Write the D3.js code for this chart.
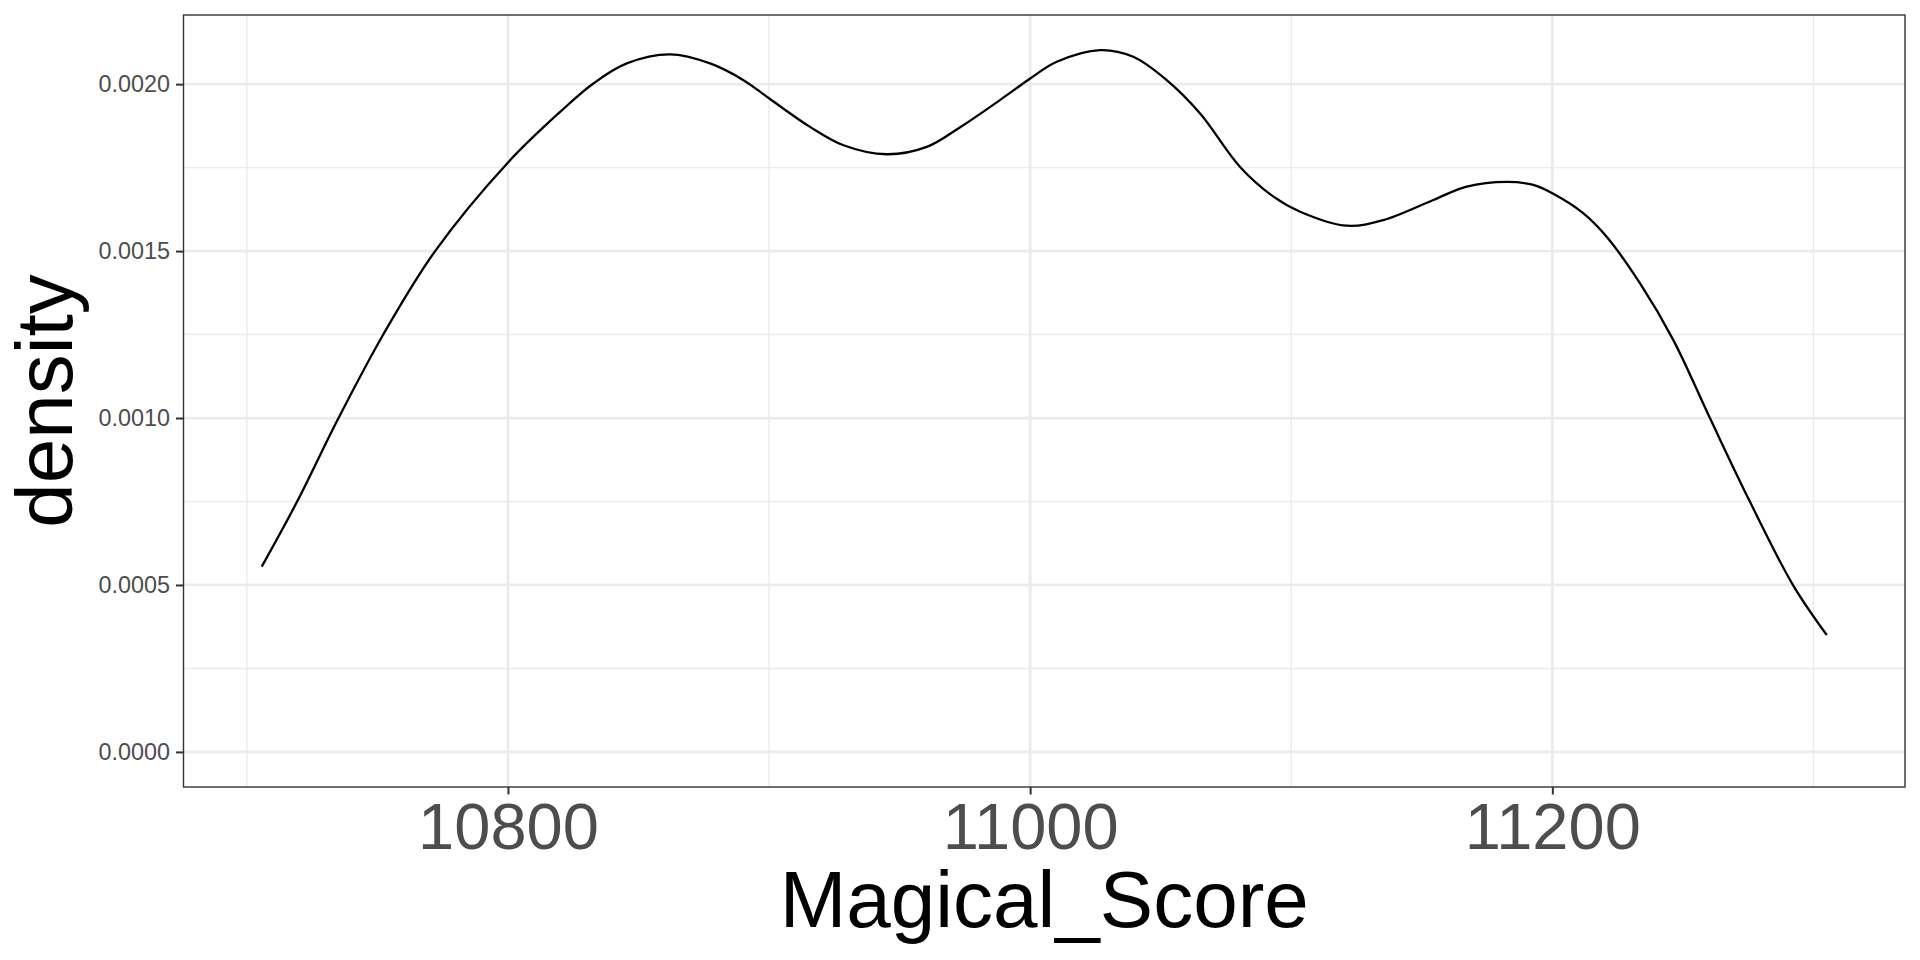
<!DOCTYPE html>
<html>
<head>
<meta charset="utf-8">
<script src="https://cdn.jsdelivr.net/npm/d3@7"></script>
<style>
  html, body { margin: 0; padding: 0; background: #ffffff; }
  svg { display: block; }
  text { font-family: "Liberation Sans", Arial, Helvetica, sans-serif; }
</style>
</head>
<body>
<svg id="chart" width="1920" height="960"></svg>
<script>
// ---- Data ----
const scoreValues = [
  10705.7, 10719.2, 10735.1, 10752.3, 10772.1, 10800.2, 10820.0, 10832.7,
  10845.5, 10862.1, 10877.4, 10890.2, 10900.1, 10915.7, 10928.5, 10945.1,
  10960.4, 10973.2, 10991.1, 11000.0, 11010.2, 11026.8, 11039.5, 11052.3,
  11065.1, 11080.4, 11093.2, 11103.4, 11121.3, 11135.3, 11154.4,
  11167.2, 11182.5, 11192.7, 11200.0, 11211.9, 11220.8, 11233.6, 11246.3,
  11260.4, 11275.7, 11292.3, 11305.1
];
const densityValues = [
  0.000555, 0.000749, 0.001000, 0.001251, 0.001500, 0.001767, 0.001917, 0.002002,
  0.002062, 0.002089, 0.002062, 0.002012, 0.001957, 0.001872, 0.001817, 0.001790,
  0.001812, 0.001871, 0.001967, 0.002017, 0.002067, 0.002102, 0.002082, 0.002012,
  0.001912, 0.001752, 0.001663, 0.001618, 0.001576, 0.001593, 0.001653,
  0.001693, 0.001707, 0.001698, 0.001673, 0.001613, 0.001543, 0.001403, 0.001234,
  0.000999, 0.000749, 0.000498, 0.000350
];
const xMajorTicks = [10800, 11000, 11200];
const xMinorTicks = [10700, 10900, 11100, 11300];
const yMajorTicks = [0, 0.0005, 0.0010, 0.0015, 0.0020];
const yMinorTicks = [0.00025, 0.00075, 0.00125, 0.00175];
const xTitle = "Magical_Score";
const yTitle = "density";

// ---- Layout ----
const panel = { left: 183.5, top: 15, right: 1905, bottom: 787 };
const svg = d3.select("#chart");

const xExt = d3.extent(scoreValues);
const xPad = (xExt[1] - xExt[0]) * 0.05;
const x = d3.scaleLinear()
  .domain([xExt[0] - xPad, xExt[1] + xPad])
  .range([panel.left, panel.right]);

const yMax = d3.max(densityValues);
const yPad = yMax * 0.05;
const y = d3.scaleLinear()
  .domain([0 - yPad, yMax + yPad])
  .range([panel.bottom, panel.top]);

// panel background
svg.append("rect")
  .attr("x", panel.left).attr("y", panel.top)
  .attr("width", panel.right - panel.left).attr("height", panel.bottom - panel.top)
  .attr("fill", "#ffffff");

const grid = svg.append("g");
// minor grid
grid.selectAll(".xmin").data(xMinorTicks).enter().append("line")
  .attr("x1", d => x(d)).attr("x2", d => x(d))
  .attr("y1", panel.top).attr("y2", panel.bottom)
  .attr("stroke", "#EBEBEB").attr("stroke-width", 1.4);
grid.selectAll(".ymin").data(yMinorTicks).enter().append("line")
  .attr("y1", d => y(d)).attr("y2", d => y(d))
  .attr("x1", panel.left).attr("x2", panel.right)
  .attr("stroke", "#EBEBEB").attr("stroke-width", 1.4);
// major grid
grid.selectAll(".xmaj").data(xMajorTicks).enter().append("line")
  .attr("x1", d => x(d)).attr("x2", d => x(d))
  .attr("y1", panel.top).attr("y2", panel.bottom)
  .attr("stroke", "#EBEBEB").attr("stroke-width", 2.8);
grid.selectAll(".ymaj").data(yMajorTicks).enter().append("line")
  .attr("y1", d => y(d)).attr("y2", d => y(d))
  .attr("x1", panel.left).attr("x2", panel.right)
  .attr("stroke", "#EBEBEB").attr("stroke-width", 2.8);

// density line
const pts = scoreValues.map((v, i) => [v, densityValues[i]]);
const line = d3.line()
  .x(d => x(d[0]))
  .y(d => y(d[1]))
  .curve(d3.curveCatmullRom.alpha(0.5));
svg.append("path")
  .datum(pts)
  .attr("d", line)
  .attr("fill", "none")
  .attr("stroke", "#000000")
  .attr("stroke-width", 2.3)
  .attr("stroke-linejoin", "round");

// panel border
svg.append("rect")
  .attr("x", panel.left).attr("y", panel.top)
  .attr("width", panel.right - panel.left).attr("height", panel.bottom - panel.top)
  .attr("fill", "none").attr("stroke", "#333333").attr("stroke-width", 1.4);

// axes
const xAxis = d3.axisBottom(x).tickValues(xMajorTicks).tickSize(7.5).tickPadding(6)
  .tickFormat(d3.format("d"));
const gx = svg.append("g").attr("transform", `translate(0,${panel.bottom})`).call(xAxis);
gx.select(".domain").remove();
gx.selectAll(".tick line").attr("stroke", "#333333").attr("stroke-width", 2);
gx.selectAll(".tick text")
  .attr("fill", "#4D4D4D")
  .style("font-size", "65px")
  .attr("dy", null)
  .attr("y", 62);

const yAxis = d3.axisLeft(y).tickValues(yMajorTicks).tickSize(7.5).tickPadding(6)
  .tickFormat(d3.format(".4f"));
const gy = svg.append("g").attr("transform", `translate(${panel.left},0)`).call(yAxis);
gy.select(".domain").remove();
gy.selectAll(".tick line").attr("stroke", "#333333").attr("stroke-width", 2);
gy.selectAll(".tick text")
  .attr("fill", "#4D4D4D")
  .style("font-size", "23.4px");

// titles
svg.append("text")
  .attr("x", (panel.left + panel.right) / 2)
  .attr("y", 927)
  .attr("text-anchor", "middle")
  .attr("fill", "#000000")
  .style("font-size", "80px")
  .text(xTitle);

svg.append("text")
  .attr("transform", `translate(72,${(panel.top + panel.bottom) / 2}) rotate(-90)`)
  .attr("text-anchor", "middle")
  .attr("fill", "#000000")
  .style("font-size", "80px")
  .text(yTitle);
</script>
</body>
</html>
